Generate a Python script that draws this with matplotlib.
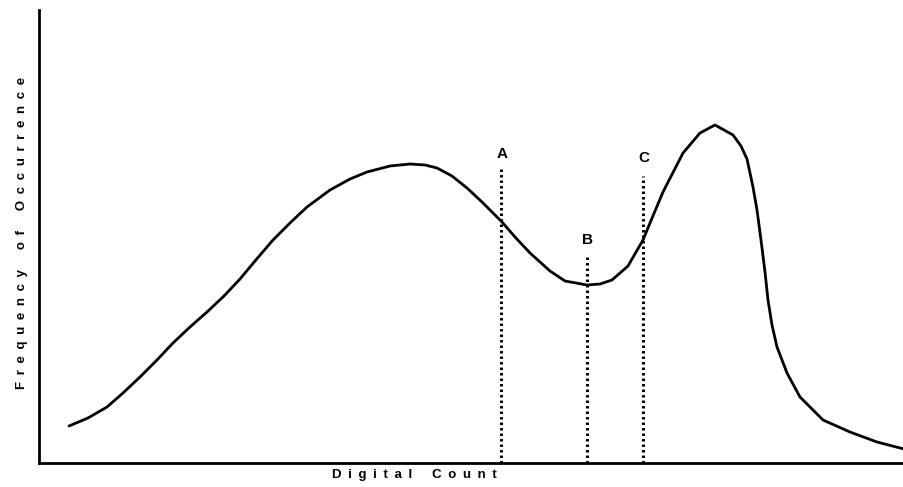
import matplotlib.pyplot as plt

# Histogram curve, digital count (x) vs frequency (y), arbitrary units
count = [30, 49, 68, 84, 101, 118, 134, 151, 168, 185, 201, 216, 234, 251, 268,
         291, 311, 328, 351, 371, 386, 398, 413, 428, 443, 463, 476, 491, 511,
         526, 548, 561, 573, 589, 604, 611, 624, 644, 661, 676, 694, 702, 708,
         714, 718, 722, 726, 729, 733, 738, 748, 761, 784, 811, 838, 865]
freq = [37, 45, 56, 70, 86, 103, 120, 136, 151, 167, 184, 202, 223, 240, 256,
        273, 284, 291, 297, 299, 298, 295, 287, 275, 261, 241, 226, 210, 192,
        182, 178, 179, 183, 197, 223, 240, 271, 310, 330, 338, 328, 317, 304,
        276, 253, 223, 191, 163, 138, 116, 90, 66, 43, 31, 21, 14]

# Threshold markers
marker_names = ['A', 'B', 'C']
marker_count = [462, 548, 604]
marker_top = [296, 209, 287]
marker_label_gap = [13, 14, 18]

plt.rcParams['font.family'] = ['Liberation Sans', 'DejaVu Sans']

fig = plt.figure(figsize=(9.04, 4.87), dpi=100)
ax = fig.add_axes([39 / 904, 24 / 487, 865 / 904, 453 / 487])

ax.plot(count, freq, color='black', lw=2, solid_joinstyle='round', solid_capstyle='round')

for name, xc, top, gap in zip(marker_names, marker_count, marker_top, marker_label_gap):
    ax.plot([xc, xc], [0, top], color='black', lw=2.2, linestyle=(0, (0.8, 1.0)))
    ax.text(xc + 1, top + gap, name, ha='center', va='center',
            fontsize=11, fontweight='bold')

ax.set_xlim(0, 865)
ax.set_ylim(0, 453)
ax.spines['top'].set_visible(False)
ax.spines['right'].set_visible(False)
ax.spines['left'].set_linewidth(2)
ax.spines['bottom'].set_linewidth(2)
ax.set_xticks([])
ax.set_yticks([])


# spread the letters of a label out, like the typewriter lettering
def spaced(label):
    words = [' '.join(w) for w in label.split()]
    return '   '.join(words).replace(' ', '\u2002')


fig.text(414 / 904, 1 - 475 / 487, spaced('Digital Count'), ha='center', va='center',
         fontsize=9.5, fontweight='bold')
fig.text(22 / 904, 1 - 233 / 487, spaced('Frequency of Occurrence'),
         ha='center', va='center', rotation=90, fontsize=9.5, fontweight='bold')

fig.savefig('out.png', dpi=100)
